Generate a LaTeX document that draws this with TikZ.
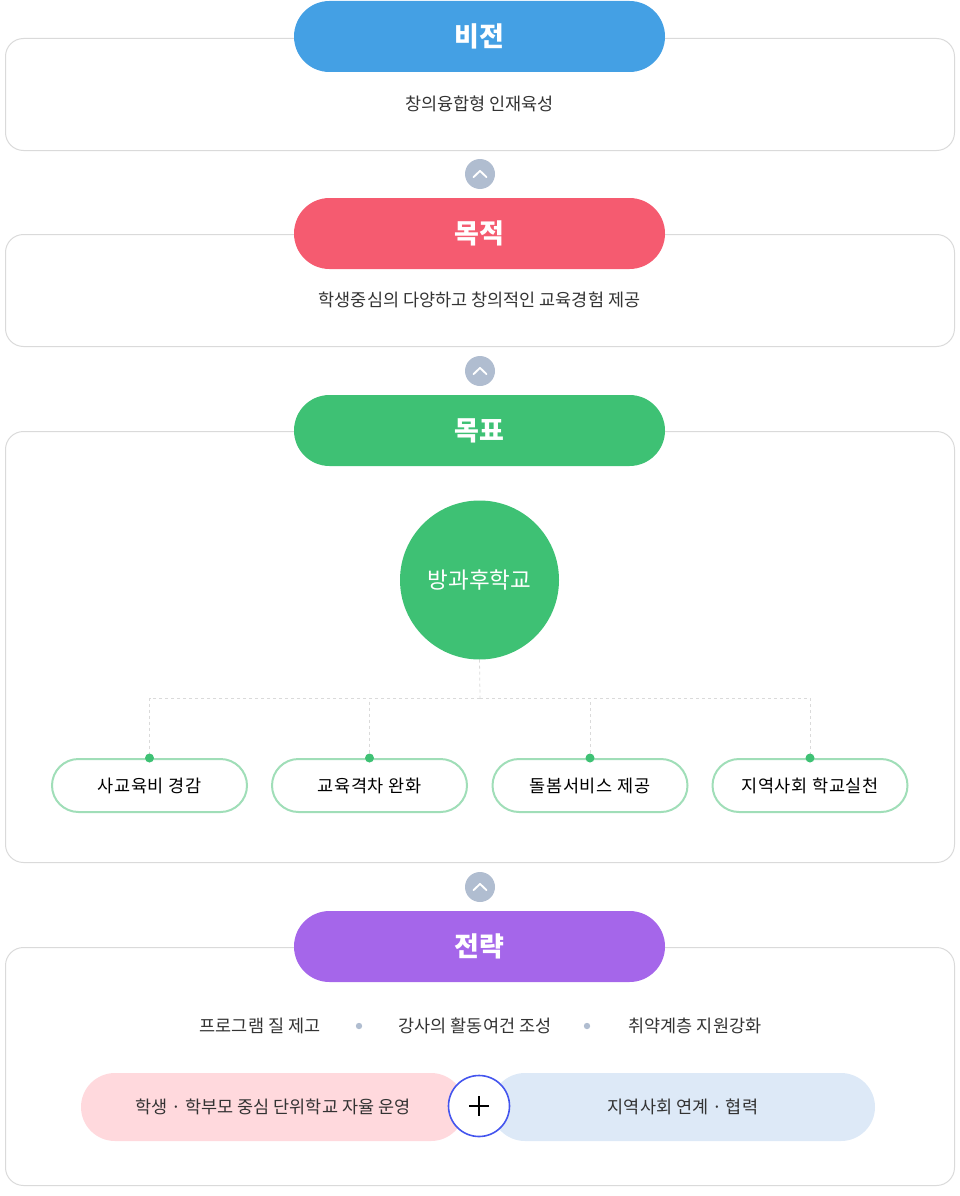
\documentclass[tikz,border=0pt]{standalone}
\usepackage{fontspec}
\setmainfont{Noto Sans CJK KR}
\newfontfamily\goalfont[LetterSpace=4]{Noto Sans CJK KR}
\usetikzlibrary{positioning, calc}

\definecolor{visionblue}{HTML}{44A0E4}
\definecolor{aimred}{HTML}{F55B70}
\definecolor{goalgreen}{HTML}{3EC174}
\definecolor{planpurple}{HTML}{A566EA}
\definecolor{panelgray}{HTML}{DADADA}
\definecolor{chevgray}{HTML}{B0BDD0}
\definecolor{pillgreen}{HTML}{A0DEB8}
\definecolor{softpink}{HTML}{FFD9DD}
\definecolor{softblue}{HTML}{DDE9F7}
\definecolor{plusblue}{HTML}{4455EE}
\definecolor{textdark}{HTML}{333333}

\begin{document}
\begin{tikzpicture}[x=1pt, y=-1pt,
	panel/.style={draw=panelgray, line width=1pt, rounded corners=18pt},
	header/.style={fill=#1, text=white, font=\bfseries\fontsize{27}{29}\selectfont,
		minimum width=371pt, minimum height=71pt, rounded corners=35.5pt, inner sep=0pt},
	body/.style={text=textdark, font=\fontsize{17.5}{19}\selectfont, inner sep=0pt},
	chev/.style={circle, fill=chevgray, minimum size=30pt, inner sep=0pt},
	goalpill/.style={draw=pillgreen, line width=2pt, fill=white, minimum width=195pt,
		minimum height=53pt, rounded corners=26.5pt, font=\goalfont\fontsize{17.5}{19}\selectfont, text=black},
	treeline/.style={draw=panelgray, dashed, line width=0.8pt},
	halfpill/.style={fill=#1, minimum width=384pt, minimum height=68pt, rounded corners=34pt,
		text=textdark, font=\fontsize{17.5}{19}\selectfont}]
	\useasboundingbox (0,0) rectangle (960,1196);
	
	%panels
	\draw[panel] (5.5,38.5) rectangle (954.5,150.5);
	\draw[panel] (5.5,234.5) rectangle (954.5,346.5);
	\draw[panel] (5.5,431.5) rectangle (954.5,862.5);
	\draw[panel] (5.5,947.5) rectangle (954.5,1185.5);
	
	%headers
	\node[header=visionblue] (vision) at (479.5,36.5) {비전};
	\node[header=aimred] (aim) at (479.5,233.5) {목적};
	\node[header=goalgreen] (goal) at (479.5,430.5) {목표};
	\node[header=planpurple] (plan) at (479.5,946.5) {전략};
	
	\node[body] (visiontext) at (479.5,104) {창의융합형 인재육성};
	\node[body] (aimtext) at (479.5,300) {학생중심의 다양하고 창의적인 교육경험 제공};
	
	%chevrons
	\foreach \n/\y in {c1/174, c2/371, c3/887}{
		\node[chev] (\n) at (480,\y) {};
		\draw[white, line width=1.8pt, line cap=round, line join=round]
			($(\n)+(-6.5,3.2)$) -- ($(\n)+(0,-3.2)$) -- ($(\n)+(6.5,3.2)$);
	}
	
	%goals
	\node[circle, fill=goalgreen, minimum size=159pt, inner sep=0pt, text=white,
		font=\fontsize{22.5}{24}\selectfont] (school) at (479.5,580) {방과후학교};
	\coordinate (fork) at (480,698);
	\node[goalpill] (g1) at (149.5,785.5) {사교육비 경감};
	\node[goalpill] (g2) at (369.5,785.5) {교육격차 완화};
	\node[goalpill] (g3) at (590,785.5) {돌봄서비스 제공};
	\node[goalpill] (g4) at (810,785.5) {지역사회 학교실천};
	\draw[treeline] (school.south) -- (fork);
	\foreach \i in {1,...,4}{
		\draw[treeline] (fork) -| (g\i.north);
		\fill[goalgreen] (g\i.north) circle (4.5);
	}
	
	%strategy
	\node[body] (s1) at (260,1026) {프로그램 질 제고};
	\node[body] (s2) at (475,1026) {강사의 활동여건 조성};
	\node[body] (s3) at (695,1026) {취약계층 지원강화};
	\fill[chevgray] (359,1026) circle (3.2);
	\fill[chevgray] (587,1026) circle (3.2);
	
	\node[halfpill=softpink] (school side) at (273,1107) {학생 · 학부모 중심 단위학교 자율 운영};
	\node[halfpill=softblue] (local side) at (683,1107) {지역사회 연계 · 협력};
	\node[circle, draw=plusblue, line width=1.6pt, fill=white, minimum size=61pt] (plus) at (479,1106) {};
	\draw[black, line width=1.2pt] ($(plus)+(-10,0)$) -- ($(plus)+(10,0)$);
	\draw[black, line width=1.2pt] ($(plus)+(0,-10)$) -- ($(plus)+(0,10)$);
\end{tikzpicture}
\end{document}
